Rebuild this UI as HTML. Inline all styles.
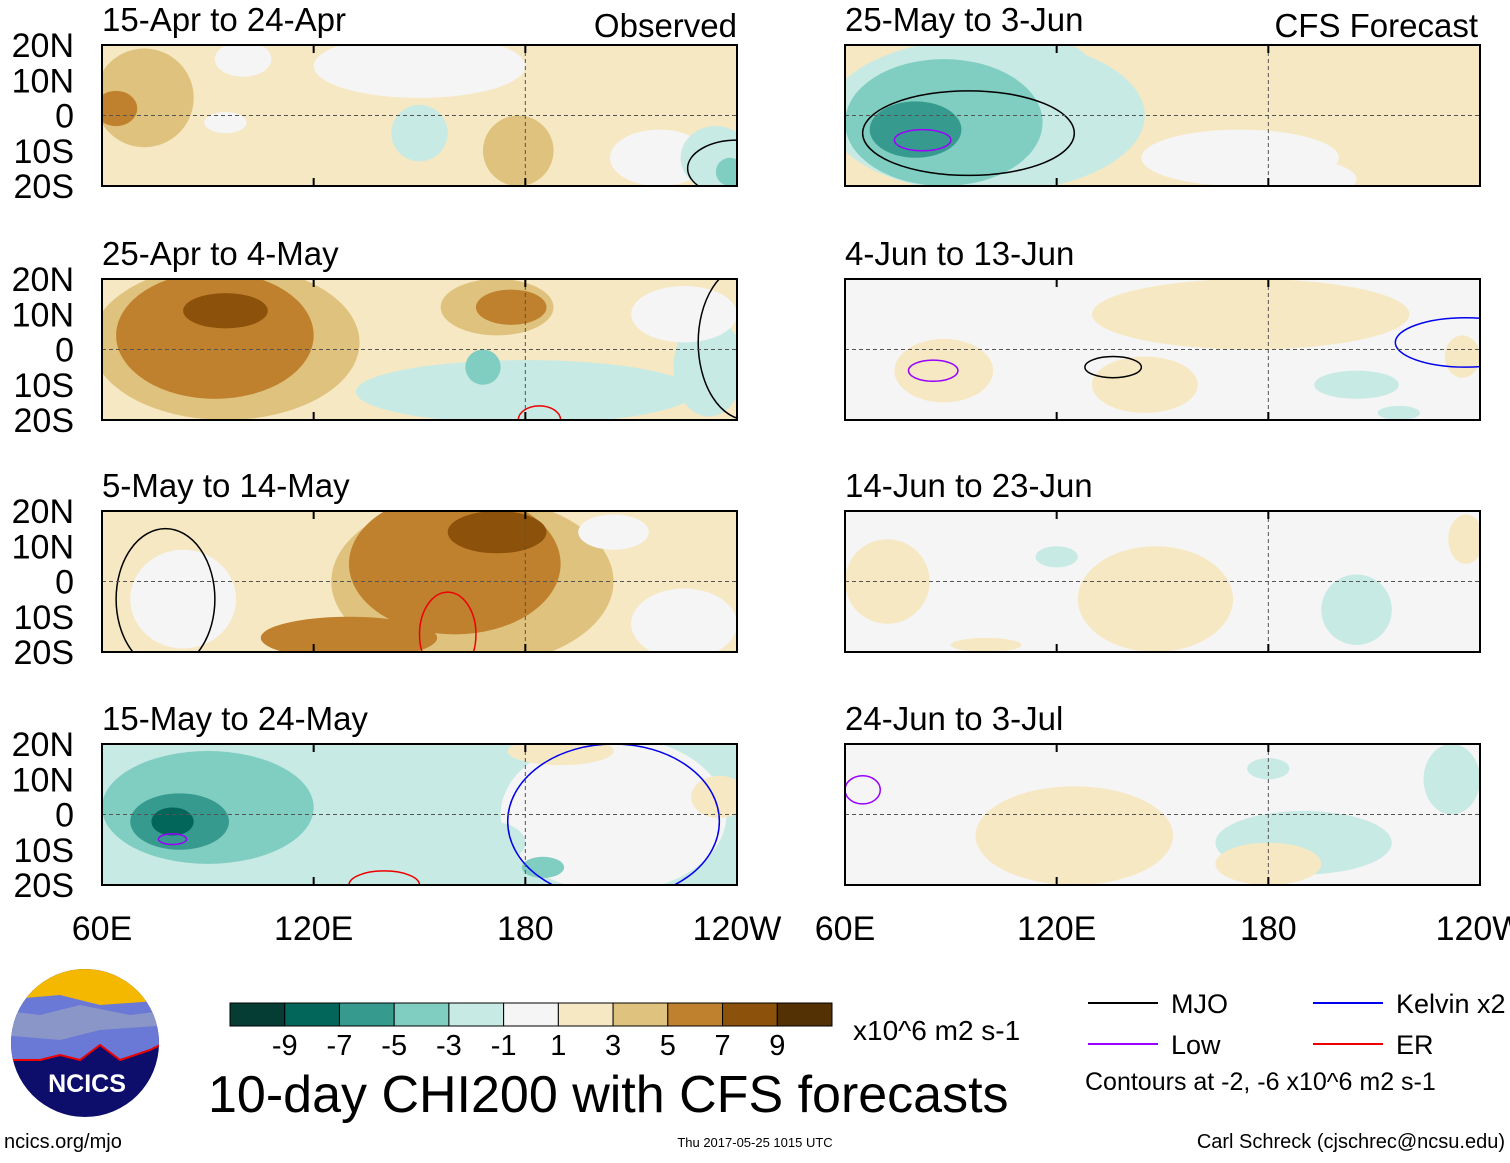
<!DOCTYPE html>
<html><head><meta charset="utf-8"><style>
body{margin:0;background:#fff;}
svg text{font-family:"Liberation Sans",sans-serif;}
</style></head><body>
<svg id="s" width="1510" height="1158" xmlns="http://www.w3.org/2000/svg"></svg>
<script>
const NS="http://www.w3.org/2000/svg";
const svg=document.getElementById('s');
const colors=["#053d35","#03665a","#379a8e","#80cdc1","#c7eae5","#f5f5f5","#f6e8c3","#dfc27d","#bf812d","#8c510a","#543005"];
const cbLabels=["-9","-7","-5","-3","-1","1","3","5","7","9"];
const titles=["15-Apr to 24-Apr","25-Apr to 4-May","5-May to 14-May","15-May to 24-May","25-May to 3-Jun","4-Jun to 13-Jun","14-Jun to 23-Jun","24-Jun to 3-Jul"];
const latLabels=["20N","10N","0","10S","20S"];
const lonLabels=["60E","120E","180","120W"];
const bgLevel=[1,1,1,-1,1,0,0,0];
// blobs: [lon, lat, rxDeg, ryDeg, level]
const blobs0=[[72,5,14,14,2],[64,2,6,5,3],[100,16,8,5,0],[150,14,30,9,0],[95,-2,6,3,0],[178,-10,10,10,2],[150,-5,8,8,-1],[218,-12,14,8,0],[234,-12,10,9,-1],[238,-16,4,4,-2]];
const blobs1=[[95,2,38,22,2],[92,4,28,18,3],[95,11,12,5,4],[172,12,16,8,2],[176,12,10,5,3],[180,-12,48,9,-1],[168,-5,5,5,-2],[232,-5,10,14,-1],[225,10,15,8,0]];
const blobs2=[[83,-5,15,14,0],[165,0,40,24,2],[160,5,30,20,3],[172,14,14,6,4],[130,-16,25,6,3],[225,-12,15,10,0],[205,14,10,5,0]];
const blobs3=[[105,0,50,22,-1],[90,2,30,16,-2],[82,-2,14,8,-3],[80,-2,6,4,-4],[205,0,32,22,0],[190,18,15,4,1],[235,5,8,6,1],[170,-8,10,6,-1],[185,-15,6,3,-2]];
const blobs4=[[100,0,45,22,-1],[88,-2,28,18,-2],[80,-4,13,8,-3],[172,-12,28,8,0],[185,-18,20,6,0],[117,15,12,6,-1]];
const blobs5=[[88,-6,14,9,1],[175,10,45,10,1],[145,-10,15,8,1],[205,-10,12,4,-1],[217,-18,6,2,-1],[235,-2,5,6,1]];
const blobs6=[[72,0,12,12,1],[148,-5,22,15,1],[120,7,6,3,-1],[205,-8,10,10,-1],[236,12,5,7,1],[100,-18,10,2,1]];
const blobs7=[[125,-6,28,14,1],[190,-8,25,9,-1],[232,10,8,10,-1],[180,-14,15,6,1],[180,13,6,3,-1]];
const blobsAll=[blobs0,blobs1,blobs2,blobs3,blobs4,blobs5,blobs6,blobs7];
// contours: [lon,lat,rx,ry,color]
const contours=[[[240,-15,14,8,"#000"]],[[184,-20,6,4,"#e00"],[243,2,14,22,"#000"]],[[78,-5,14,20,"#000"],[158,-15,8,12,"#e00"]],[[80,-7,4,1.5,"#90f"],[205,-2,30,22,"#00e"],[140,-20,10,4,"#e00"]],[[95,-5,30,12,"#000"],[82,-7,8,3,"#90f"]],[[85,-6,7,3,"#90f"],[136,-5,8,3,"#000"],[236,2,20,7,"#00e"]],[],[[65,7,5,4,"#90f"]]];
const colX=[102,845], rowY=[45,279,511,744], W=635, H=141;
function el(t,a,p){const e=document.createElementNS(NS,t);for(const k in a)e.setAttribute(k,a[k]);(p||svg).appendChild(e);return e;}
function col(l){return colors[l+5];}
for(let i=0;i<8;i++){
  const x0=colX[i<4?0:1], y0=rowY[i%4];
  const xs=lon=>x0+(lon-60)/180*W, ys=lat=>y0+(20-lat)/40*H;
  const g=el('g',{});
  
  
  const cp=el('clipPath',{id:'c'+i},g);el('rect',{x:x0,y:y0,width:W,height:H},cp);
  const inner=el('g',{'clip-path':'url(#c'+i+')'},g);
  el('rect',{x:x0,y:y0,width:W,height:H,fill:col(bgLevel[i])},inner);
  blobsAll[i].forEach(b=>{const e=el('ellipse',{cx:xs(b[0]),cy:ys(b[1]),rx:b[2]/180*W,ry:b[3]/40*H,fill:col(b[4])},inner);
    });
  contours[i].forEach(c=>{const e=el('ellipse',{cx:xs(c[0]),cy:ys(c[1]),rx:c[2]/180*W,ry:c[3]/40*H,fill:'none',stroke:c[4],'stroke-width':1.5},inner);
    });
  el('line',{x1:x0,x2:x0+W,y1:ys(0),y2:ys(0),stroke:'#555','stroke-dasharray':'4,3'},inner);
  el('line',{x1:xs(180),x2:xs(180),y1:y0,y2:y0+H,stroke:'#555','stroke-dasharray':'4,3'},inner);
  el('rect',{x:x0,y:y0,width:W,height:H,fill:'none',stroke:'#000','stroke-width':2},g);
  [120,180].forEach(l=>{el('line',{x1:xs(l),x2:xs(l),y1:y0,y2:y0+8,stroke:'#000','stroke-width':2},g);el('line',{x1:xs(l),x2:xs(l),y1:y0+H,y2:y0+H-8,stroke:'#000','stroke-width':2},g);});
  const t=el('text',{x:x0,y:y0-14,'font-size':33},g);t.textContent=titles[i];
  
  if(i<4){latLabels.forEach((s,k)=>{const tt=el('text',{x:74,y:y0+k*H/4+12,'font-size':34,'text-anchor':'end'},g);tt.textContent=s;});}
  if(i%4==3){lonLabels.forEach((s,k)=>{const tt=el('text',{x:x0+k*W/3,y:940,'font-size':34,'text-anchor':'middle'});tt.textContent=s;});}
}
let t=el('text',{x:737,y:37,'font-size':33,'text-anchor':'end'});t.textContent="Observed";
t=el('text',{x:1478,y:37,'font-size':33,'text-anchor':'end'});t.textContent="CFS Forecast";
// colorbar
const cb=el('g',{});
const bw=602/11;
colors.forEach((c,k)=>el('rect',{x:230+k*bw,y:1003,width:bw,height:23,fill:c,stroke:'#000','stroke-width':1},cb));
cbLabels.forEach((s,k)=>{const tt=el('text',{x:230+(k+1)*bw,y:1055,'font-size':29,'text-anchor':'middle'},cb);tt.textContent=s;});
t=el('text',{x:853,y:1040,'font-size':28});t.textContent="x10^6 m2 s-1";
t=el('text',{x:208,y:1112,'font-size':52});t.textContent="10-day CHI200 with CFS forecasts";

// legend
const lg=[["MJO","#000",1088,1003],["Kelvin x2","#00e",1313,1003],["Low","#90f",1088,1044],["ER","#e00",1313,1044]];
lg.forEach(L=>{const g=el('g',{});
  el('line',{x1:L[2],x2:L[2]+70,y1:L[3],y2:L[3],stroke:L[1],'stroke-width':2},g);
  const tt=el('text',{x:L[2]+83,y:L[3]+10,'font-size':27},g);tt.textContent=L[0];});
t=el('text',{x:1085,y:1090,'font-size':25});t.textContent="Contours at -2, -6 x10^6 m2 s-1";
t=el('text',{x:4,y:1148,'font-size':20});t.textContent="ncics.org/mjo";
t=el('text',{x:755,y:1147,'font-size':13,'text-anchor':'middle'});t.textContent="Thu 2017-05-25 1015 UTC";
t=el('text',{x:1505,y:1148,'font-size':20,'text-anchor':'end'});t.textContent="Carl Schreck (cjschrec@ncsu.edu)";
// logo
const lgo=el('g',{});
const cpl=el('clipPath',{id:'lc'},lgo);el('circle',{cx:85,cy:1043,r:74},cpl);
const li=el('g',{'clip-path':'url(#lc)'},lgo);
el('rect',{x:0,y:960,width:170,height:170,fill:'#0d0d6b'},li);
el('rect',{x:0,y:960,width:170,height:45,fill:'#f5b800'},li);
el('path',{d:'M0 1000 L60 995 L100 1005 L170 1000 L170 1040 L150 1050 L120 1060 L100 1045 L80 1060 L60 1055 L40 1060 L0 1060Z',fill:'#6a78d6'},li);
el('path',{d:'M0 1010 L40 1015 L80 1005 L130 1015 L170 1010 L170 1025 L100 1030 L60 1040 L0 1035Z',fill:'#8a95c8'},li);
el('path',{d:'M0 1060 L40 1060 L60 1055 L80 1060 L100 1045 L120 1060 L150 1050 L170 1040',fill:'none',stroke:'#e00','stroke-width':2},li);
t=el('text',{x:87,y:1092,'font-size':25,'font-weight':'bold',fill:'#fff','text-anchor':'middle'},lgo);t.textContent="NCICS";
</script>
</body></html>
